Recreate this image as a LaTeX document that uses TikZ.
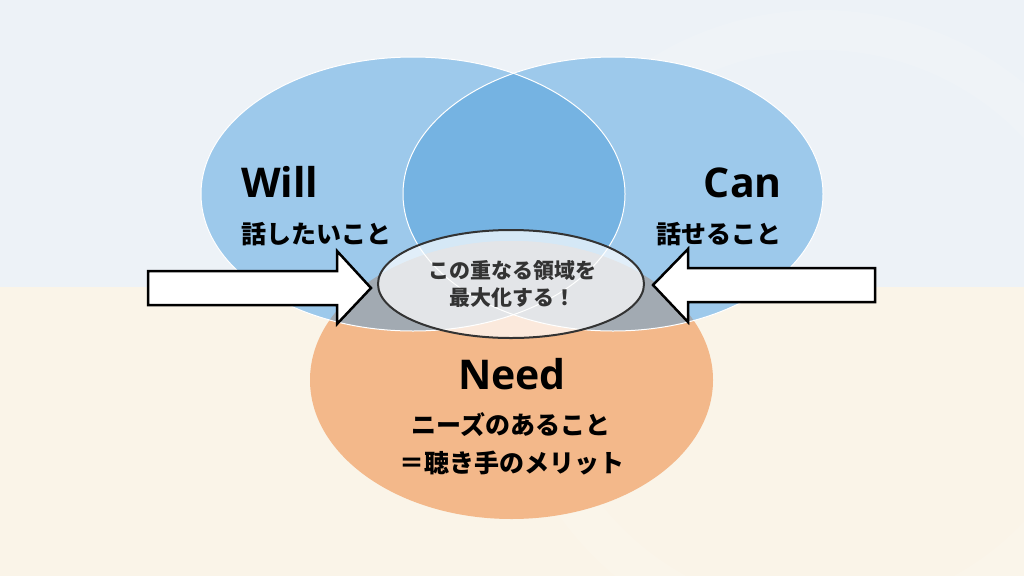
\documentclass[tikz,border=0pt]{standalone}
\usepackage{fontspec}
\setmainfont{Open Sans}
\newfontfamily\jp{Noto Sans CJK JP}
\usetikzlibrary{shapes.geometric}
\definecolor{bgtop}{HTML}{EDF2F7}
\definecolor{bgbot}{HTML}{FAF4E8}
\definecolor{bluec}{HTML}{9DC9EB}
\definecolor{darkblue}{HTML}{75B3E2}
\definecolor{grayc}{HTML}{A2AAB2}
\definecolor{needc}{HTML}{F3B88A}
\definecolor{txtgray}{HTML}{333333}
\begin{document}
\begin{tikzpicture}[x=1pt,y=-1pt,
  lat/.style={font=\fontsize{41}{41}\selectfont\bfseries, inner sep=0pt, text=black},
  jpt/.style={font=\jp\fontsize{25}{25}\selectfont\bfseries, inner sep=0pt, text=black},
  ctext/.style={font=\jp\fontsize{21}{21}\selectfont\bfseries, inner sep=0pt, text=txtgray},
  arrowshape/.style={draw=black, line width=2.5pt, fill=white, line join=miter},
  venn/.style={white, line width=1pt}]
\useasboundingbox (0,0) rectangle (1024,576);
\fill[bgtop] (0,0) rectangle (1024,287);
\fill[bgbot] (0,287) rectangle (1024,576);
\begin{scope}
  \clip (0,0) rectangle (1024,576);
  \draw[white, opacity=0.12, line width=40pt] (820,330) circle [radius=300pt];
\end{scope}
\def\WillE{(413,194) ellipse [x radius=212pt, y radius=137pt]}
\def\CanE{(613,194) ellipse [x radius=210pt, y radius=137pt]}
\def\NeedE{(511.5,380) ellipse [x radius=201.5pt, y radius=139pt]}
\fill[needc] \NeedE;
\fill[bluec] \WillE;
\fill[bluec] \CanE;
\begin{scope}
  \clip \WillE;
  \fill[darkblue] \CanE;
\end{scope}
\begin{scope}
  \clip \NeedE;
  \fill[grayc] \WillE;
  \fill[grayc] \CanE;
\end{scope}
\draw[venn] \WillE;
\draw[venn] \CanE;
% arrows
\draw[arrowshape] (148,271) -- (337,271) -- (337,251) -- (371,288) -- (337,324) -- (337,305) -- (148,305) -- cycle;
\draw[arrowshape] (875,268) -- (688,268) -- (688,249) -- (653,285) -- (688,322) -- (688,302) -- (875,302) -- cycle;
% focus ellipse
\node[ellipse, draw=txtgray, line width=2pt, fill=white, fill opacity=0.7,
  minimum width=266pt, minimum height=108pt, inner sep=0pt] (focus) at (511,284) {};
\node[ctext] (c1) at (512,271) {この重なる領域を};
\node[ctext] (c2) at (512,298) {最大化する！};
% labels
\node[lat, anchor=base west] (will) at (241,197) {Will};
\node[jpt, anchor=west] (willsub) at (241,234) {話したいこと};
\node[lat, anchor=base east] (can) at (782,197) {Can};
\node[jpt, anchor=east] (cansub) at (782,234) {話せること};
\node[lat, anchor=base] (need) at (512,389) {Need};
\node[jpt] (needsub1) at (511,425) {ニーズのあること};
\node[jpt] (needsub2) at (512,463) {＝聴き手のメリット};
\end{tikzpicture}
\end{document}
